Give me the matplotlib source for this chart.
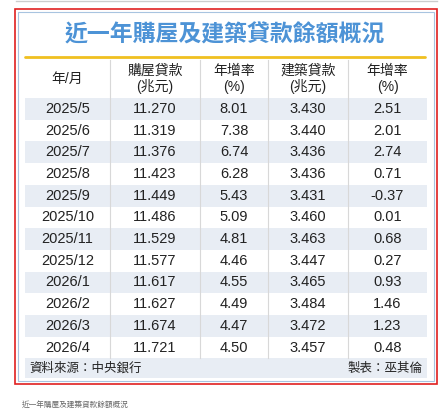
import matplotlib
matplotlib.use('Agg')
import matplotlib.pyplot as plt
from matplotlib.patches import Rectangle

plt.rcParams['font.family'] = ['Liberation Sans', 'Noto Sans CJK TC']

# 資料
months = ['2025/5', '2025/6', '2025/7', '2025/8', '2025/9', '2025/10',
          '2025/11', '2025/12', '2026/1', '2026/2', '2026/3', '2026/4']
house_loan = ['11.270', '11.319', '11.376', '11.423', '11.449', '11.486',
              '11.529', '11.577', '11.617', '11.627', '11.674', '11.721']
house_growth = ['8.01', '7.38', '6.74', '6.28', '5.43', '5.09',
                '4.81', '4.46', '4.55', '4.49', '4.47', '4.50']
build_loan = ['3.430', '3.440', '3.436', '3.436', '3.431', '3.460',
              '3.463', '3.447', '3.465', '3.484', '3.472', '3.457']
build_growth = ['2.51', '2.01', '2.74', '0.71', '-0.37', '0.01',
                '0.68', '0.27', '0.93', '1.46', '1.23', '0.48']
headers = ['年/月', '購屋貸款\n(兆元)', '年增率\n(%)', '建築貸款\n(兆元)', '年增率\n(%)']

W, H = 447, 417
fig = plt.figure(figsize=(W / 100, H / 100), dpi=100)
ax = fig.add_axes([0, 0, 1, 1])
ax.set_xlim(0, W)
ax.set_ylim(H, 0)
ax.axis('off')

shade = '#e8edf4'
cjk = ['Noto Sans CJK TC', 'DejaVu Sans']
# 外框
ax.add_patch(Rectangle((15, 9), 422, 375, fill=False, ec='#e02020', lw=1.2))
ax.add_patch(Rectangle((18, 12), 416, 369, fill=False, ec='#a8c4e0', lw=0.8))
ax.plot([16, 437], [1, 1], color='#cccccc', lw=1)

# 標題
ax.text(225, 35, '近一年購屋及建築貸款餘額概況', ha='center', va='center',
        fontsize=16.5, color='#4d93d6', fontweight='bold', family=cjk)
ax.plot([25, 425], [57, 57], color='#f0c020', lw=2, solid_capstyle='round')

col_x = [25, 110, 200, 268, 348, 427]
col_c = [(col_x[i] + col_x[i + 1]) / 2 for i in range(5)]
hdr_top, hdr_bot = 60, 98
row_h = 21.7

# 表頭
for i, h in enumerate(headers):
    ax.text(col_c[i], (hdr_top + hdr_bot) / 2, h, ha='center', va='center',
            fontsize=10, color='#222222', linespacing=1.15)

rows = list(zip(months, house_loan, house_growth, build_loan, build_growth))
for r, vals in enumerate(rows):
    y0 = hdr_bot + r * row_h
    if r % 2 == 0:
        ax.add_patch(Rectangle((col_x[0], y0), col_x[-1] - col_x[0], row_h,
                               fc=shade, ec='none', zorder=0))
    for i, v in enumerate(vals):
        ax.text(col_c[i], y0 + row_h / 2, v, ha='center', va='center',
                fontsize=10.5, color='#222222')

tbl_bot = hdr_bot + len(rows) * row_h
for x in col_x[1:-1]:
    ax.plot([x, x], [hdr_top, tbl_bot], color='#d8d8d8', lw=0.8)

# 資料來源列
ax.add_patch(Rectangle((col_x[0], tbl_bot), col_x[-1] - col_x[0], 20,
                       fc=shade, ec='none', zorder=0))
ax.text(29, tbl_bot + 10, '資料來源：中央銀行', ha='left', va='center',
        fontsize=9, color='#222222', family=cjk)
ax.text(423, tbl_bot + 10, '製表：巫其倫', ha='right', va='center',
        fontsize=9, color='#222222', family=cjk)

ax.text(22, 405, '近一年購屋及建築貸款餘額概況', ha='left', va='center',
        fontsize=5.5, color='#666666', family=cjk)

fig.savefig('out.png', dpi=100)
